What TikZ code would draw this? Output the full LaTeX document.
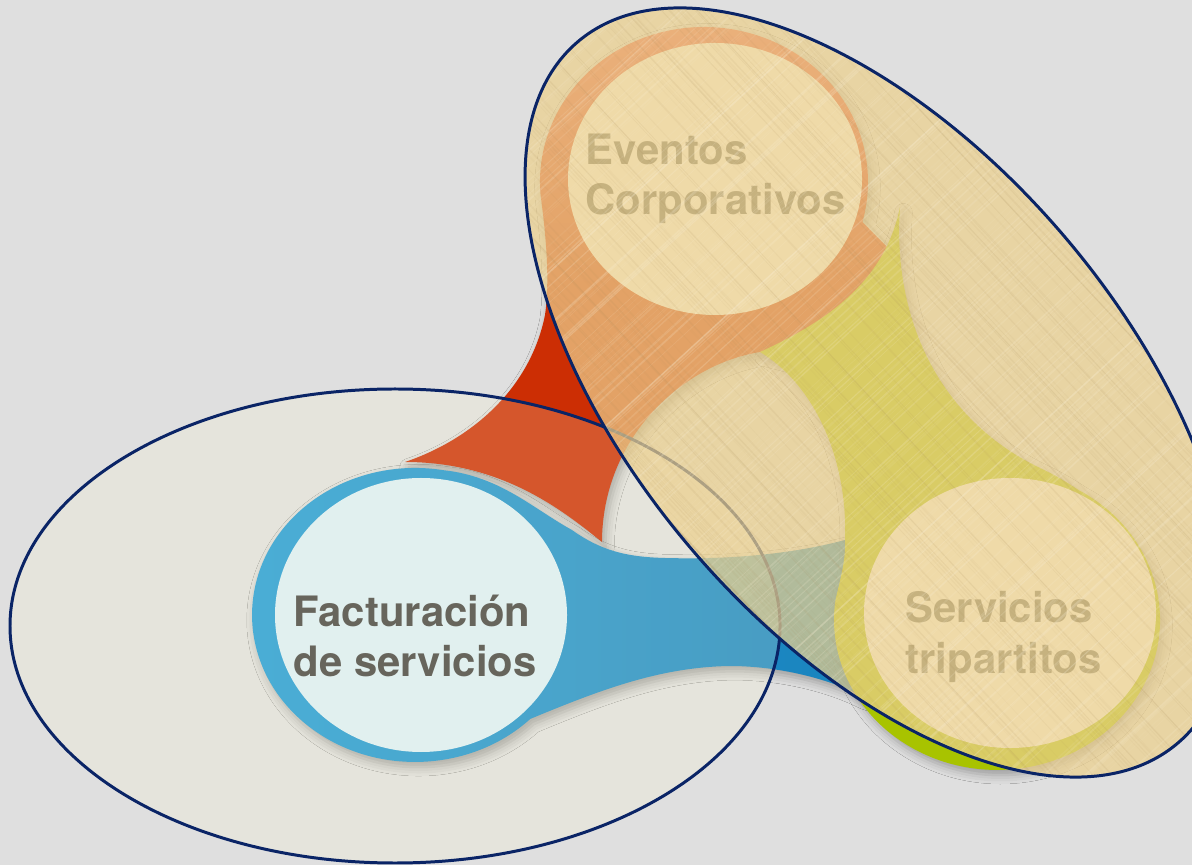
\documentclass[tikz,border=0pt]{standalone}
\usepackage{fontspec}
\setmainfont{TeX Gyre Heros}
\usetikzlibrary{shadows.blur}

\definecolor{bggray}{HTML}{DFDFDF}
\definecolor{navy}{HTML}{0A2466}
\definecolor{cream}{HTML}{FDF8D0}
\definecolor{parchment}{HTML}{ECD08D}
\definecolor{weavedark}{HTML}{A88A58}
\definecolor{weavelight}{HTML}{FBF1D8}
\definecolor{evred}{HTML}{CC2E04}
\definecolor{evredlight}{HTML}{E8604E}
\definecolor{fablue}{HTML}{1E9CD8}
\definecolor{fabluedark}{HTML}{1A82BC}
\definecolor{sgreen}{HTML}{A8C300}
\definecolor{bubblein}{HTML}{F7F4EE}
\definecolor{bluein}{HTML}{DAEEF7}
\definecolor{labelgray}{HTML}{67655C}

\pgfdeclareverticalshading{redbubble}{100bp}{color(0bp)=(evred); color(50bp)=(evred);
  color(75bp)=(evredlight); color(100bp)=(evredlight)}

\tikzset{
  bubble/.style={blur shadow={shadow xshift=1pt, shadow yshift=-1.5pt,
      shadow blur radius=2.5pt, shadow opacity=30}},
  outline/.style={draw=navy, line width=0.85pt},
  tanring/.style={rotate around={-49.4:(877.7,392.5)}},
  bubbletext/.style={font=\fontsize{11.9pt}{14.4pt}\selectfont\bfseries,
      text=labelgray, align=left, inner sep=0pt, anchor=base west}
}

\begin{document}
\begin{tikzpicture}[x=0.01cm, y=-0.01cm]
  \useasboundingbox (0,0) rectangle (1192,865);
  \fill[bggray] (0,0) rectangle (1192,865);

  % red bubble, tail sweeping down to the left
  \shade[bubble, shading=redbubble]
    (405,462) .. controls (470,440) and (530,390) .. (545,315)
    .. controls (550,280) and (546,235) .. (540.6,195.5)
    arc[start angle=175, end angle=375, x radius=164, y radius=155]
    -- (890,250) -- (810,365) -- (760,352)
    .. controls (680,365) and (602,440) .. (602,542)
    .. controls (560,508) and (500,462) .. (405,462) -- cycle;
  \fill[bubblein] (715,179) ellipse [x radius=147, y radius=136];

  % blue bubble, tail running to the right
  \shade[bubble, left color=fablue, right color=fabluedark] (443.3,470.2)
    .. controls (500,476) and (535,510) .. (572,530)
    .. controls (600,550) and (625,557) .. (665,558)
    .. controls (740,560) and (800,552) .. (845,540)
    -- (890,560) -- (890,705) -- (860,695)
    .. controls (820,675) and (770,666) .. (730,666)
    .. controls (660,667) and (600,690) .. (530.3,718.9)
    arc[start angle=45, end angle=280, x radius=163, y radius=147] -- cycle;
  \fill[bluein] (421,615) ellipse [x radius=146, y radius=137];

  % green bubble, tail rising to the top
  \fill[sgreen, bubble] (900,207) .. controls (892,320) and (940,420) .. (1040,468)
    .. controls (1055,475) and (1068,483) .. (1078.5,490)
    arc[start angle=-60, end angle=187.6, x radius=163, y radius=150]
    .. controls (840,580) and (846,560) .. (845,540)
    .. controls (848,460) and (815,385) .. (760,352)
    .. controls (830,320) and (885,280) .. (900,207) -- cycle;
  \fill[bubblein] (1010,613) ellipse [x radius=146, y radius=135];

  % big ring round the billing bubble
  \draw[outline, fill=cream, fill opacity=0.2] (395,626) ellipse [x radius=385, y radius=237];

  \node[bubbletext] (eventos) at (585,215) {Eventos\\Corporativos};
  \node[bubbletext] (facturacion) at (293,677) {Facturación\\de servicios};
  \node[bubbletext] (servicios) at (905,673) {Servicios\\tripartitos};

  % parchment ellipse on top, with a light weave
  \fill[parchment, fill opacity=0.72, tanring] (877.7,392.5) ellipse [x radius=461.5, y radius=243.3];
  \begin{scope}
    \clip[tanring] (877.7,392.5) ellipse [x radius=461.5, y radius=243.3];
    \pgfmathsetseed{42}
    \foreach \k in {1,...,260}{
      \pgfmathsetmacro{\xa}{rnd*1700-450}
      \pgfmathsetmacro{\xb}{rnd*1700-450}
      \pgfmathsetmacro{\opa}{0.03+0.08*rnd}
      \pgfmathsetmacro{\opb}{0.05+0.14*rnd}
      \pgfmathsetmacro{\lw}{0.12+0.4*rnd}
      \draw[weavedark, opacity=\opa, line width=\lw pt] (\xa,0) -- ++(820,880);
      \draw[weavelight, opacity=\opb, line width=\lw pt] (\xb,880) -- ++(960,-880);
    }
  \end{scope}
  \draw[outline, tanring] (877.7,392.5) ellipse [x radius=461.5, y radius=243.3];
\end{tikzpicture}
\end{document}
